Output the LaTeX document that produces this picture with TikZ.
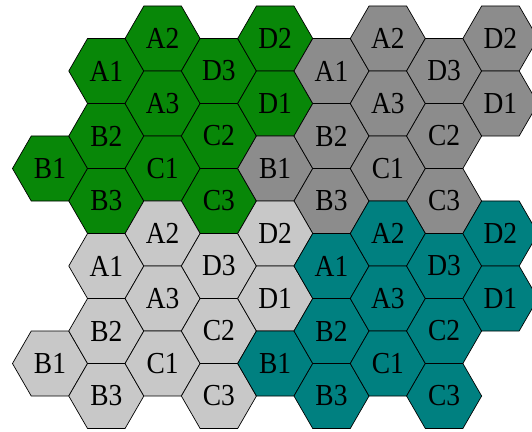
\documentclass[tikz,border=0pt]{standalone}
\usepackage{fontspec}
\newfontfamily\cellfont[FakeStretch=0.9]{Liberation Serif}
\usetikzlibrary{shapes.geometric}
\definecolor{cellgreen}{RGB}{8,135,8}
\definecolor{cellgrey}{RGB}{140,140,140}
\definecolor{celllight}{RGB}{200,200,200}
\definecolor{cellteal}{RGB}{0,128,128}

\begin{document}
\begin{tikzpicture}[x=56.3pt, y=-32.5pt,
  cell/.style={draw, regular polygon, regular polygon sides=6,
    minimum size=75.06pt, inner sep=0pt, line width=0.7pt,
    font=\cellfont\fontsize{30.5}{30.5}\selectfont},
]
  \useasboundingbox (-50pt,168.5pt) rectangle (482pt,-262.5pt);

  % four clusters of twelve cells
  \foreach \cl/\dc/\dk in {green/0/0, grey/4/0, light/0/6, teal/4/6}{
    \foreach \lab/\c/\k in {B1/0/0, A1/1/-3, B2/1/-1, B3/1/1,
        A2/2/-4, A3/2/-2, C1/2/0, D3/3/-3, C2/3/-1, C3/3/1,
        D2/4/-4, D1/4/-2}{
      \node[cell, fill=cell\cl] (\cl-\lab) at (\c+\dc, \k+\dk) {\lab};
    }
  }
\end{tikzpicture}
\end{document}
